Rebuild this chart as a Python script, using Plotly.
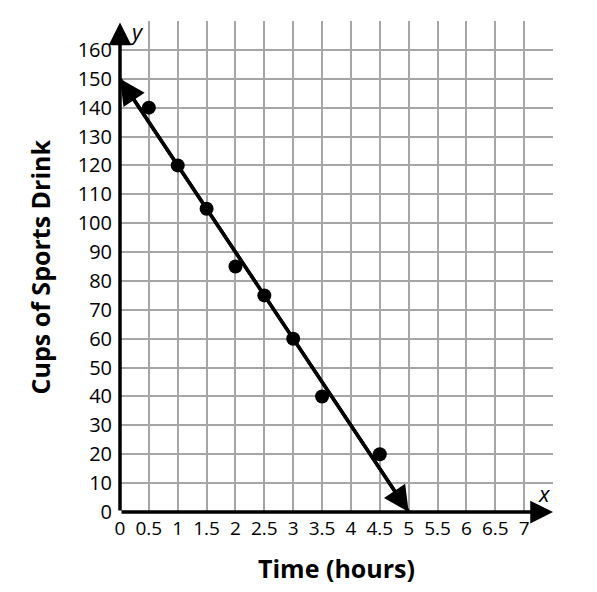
import plotly.graph_objects as go

# data
hours = [0.5, 1, 1.5, 2, 2.5, 3, 3.5, 4.5]
cups = [140, 120, 105, 85, 75, 60, 40, 20]
fit_x = [0, 5]
fit_y = [150, 0]

x_ticks = [0, 0.5, 1, 1.5, 2, 2.5, 3, 3.5, 4, 4.5, 5, 5.5, 6, 6.5, 7, 7.5]
x_labels = ["0", "0.5", "1", "1.5", "2", "2.5", "3", "3.5", "4", "4.5", "5",
            "5.5", "6", "6.5", "7", ""]
y_ticks = list(range(0, 180, 10))
y_labels = [str(v) for v in range(0, 170, 10)] + [""]

font = "Open Sans, Noto Sans, sans-serif"

fig = go.Figure()
fig.add_trace(go.Scatter(x=fit_x, y=fit_y, mode="lines",
                         line=dict(color="black", width=3.5), hoverinfo="skip"))
fig.add_trace(go.Scatter(x=hours, y=cups, mode="markers",
                         marker=dict(color="black", size=14)))

mid_x = sum(fit_x) / 2
mid_y = sum(fit_y) / 2
arrows = []
# arrowheads on both ends of the line
for ex, ey in zip(fit_x, fit_y):
    arrows.append(dict(x=ex, y=ey, ax=mid_x, ay=mid_y, xref="x", yref="y",
                       axref="x", ayref="y", showarrow=True, arrowhead=2,
                       arrowsize=1.45, arrowwidth=3.5, arrowcolor="black", text=""))
# axes with arrows
arrows.append(dict(x=7.5, y=0, ax=0, ay=0, xref="x", yref="y", axref="x", ayref="y",
                   showarrow=True, arrowhead=2, arrowsize=1.3, arrowwidth=3.5,
                   arrowcolor="black", text=""))
arrows.append(dict(x=0, y=169.5, ax=0, ay=0, xref="x", yref="y", axref="x", ayref="y",
                   showarrow=True, arrowhead=2, arrowsize=1.3, arrowwidth=3.5,
                   arrowcolor="black", text=""))
labels = [
    dict(x=0.28, y=166.5, xref="x", yref="y", text="<i>y</i>", showarrow=False,
         font=dict(size=22, color="black", family=font)),
    dict(x=7.35, y=6.5, xref="x", yref="y", text="<i>x</i>", showarrow=False,
         font=dict(size=22, color="black", family=font)),
    dict(x=-0.185, y=0.5, xref="paper", yref="paper", text="<b>Cups of Sports Drink</b>",
         textangle=-90, showarrow=False, xanchor="center", yanchor="middle",
         font=dict(size=25, color="black", family=font)),
    dict(x=0.5, y=-0.114, xref="paper", yref="paper", text="<b>Time (hours)</b>",
         showarrow=False, xanchor="center", yanchor="middle",
         font=dict(size=25, color="black", family=font)),
]

# page body has an 8px margin, so the figure is offset by 8px
fig.update_layout(
    width=581, height=576,
    margin=dict(l=112, r=36, t=13, b=72),
    plot_bgcolor="white", paper_bgcolor="white",
    showlegend=False,
    annotations=arrows + labels,
    font=dict(family=font, size=20, color="black"),
)
fig.update_xaxes(range=[0, 7.5], tickvals=x_ticks, ticktext=x_labels,
                 showgrid=True, gridcolor="#a6a6a6", gridwidth=1.5,
                 zeroline=False, showline=False, ticks="", ticklabelstandoff=3,
                 tickfont=dict(size=19))
fig.update_yaxes(range=[0, 170], tickvals=y_ticks, ticktext=y_labels,
                 showgrid=True, gridcolor="#a6a6a6", gridwidth=1.5,
                 zeroline=False, showline=False, ticks="", ticklabelstandoff=7,
                 tickfont=dict(size=20))

fig.write_html("out.html")
